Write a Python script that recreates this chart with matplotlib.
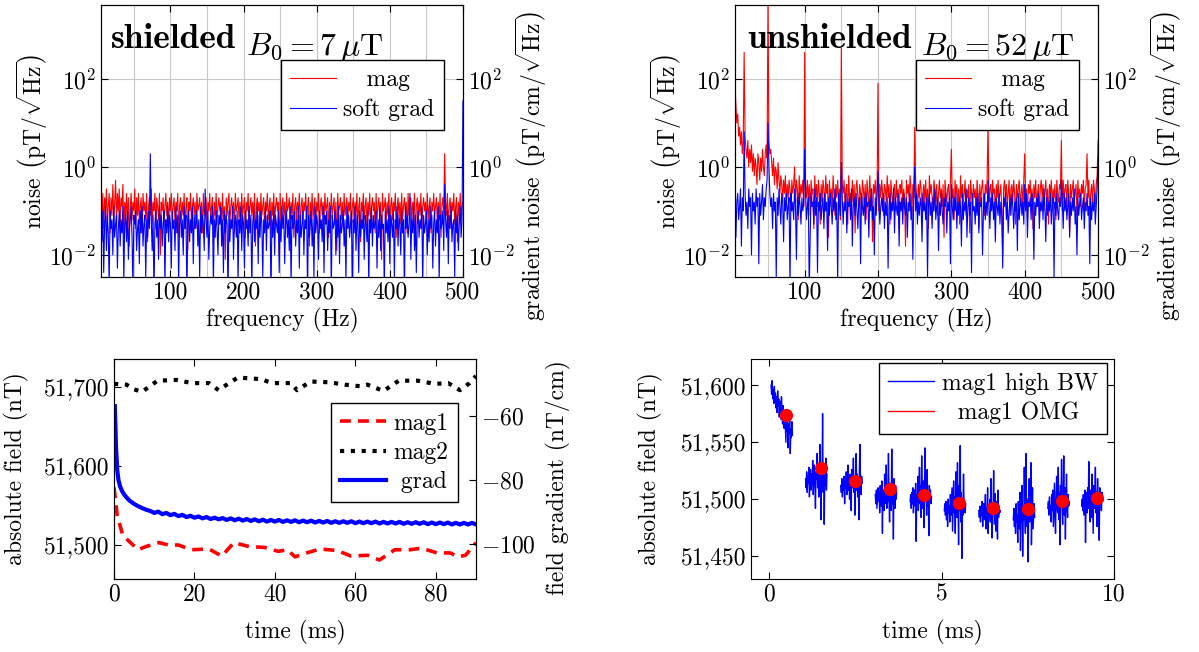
import numpy as np
import matplotlib.pyplot as plt
from matplotlib.ticker import FixedLocator, FuncFormatter, MultipleLocator, NullLocator

plt.rcParams['font.family'] = 'cmr10'
plt.rcParams['mathtext.fontset'] = 'cm'
plt.rcParams['axes.unicode_minus'] = False
plt.rcParams['font.size'] = 17

# noise spectra, bins from 5 Hz to 500 Hz (1.25 Hz apart),
# values in tenths of a decade (log10 * 10)
F_START, F_STOP = 5, 500

mag_shielded = [
    -8, -12, -6, -14, -7, -10, -5, -13, -9, -6, -15, -7, -11, -4, -12, -8, -3, -13, -6, -10,
    -5, -14, -7, -9, -4, -16, -8, -11, -6, -13, -7, -18, -9, -6, -12, -8, -10, -5, -14, -7,
    -11, -6, -13, -9, -7, -15, -6, -10, -8, -12, -6, -17, -9, -7, -11, -5, -13, -8, -10, -6,
    -14, -7, -9, -12, -6, -20, -8, -10, -7, -13, -9, -6, -11, -8, -15, -7, -10, -6, -12, -9,
    -7, -13, -8, -10, -6, -16, -9, -7, -12, -8, -11, -6, -14, -9, -7, -19, -8, -10, -6, -13,
    -9, -7, -11, -8, -14, -6, -10, -9, -7, -12, -8, -15, -6, -11, -9, -7, -13, -8, -10, -6,
    -12, -9, -7, -17, -8, -11, -6, -13, -9, -7, -10, -8, -14, -6, -12, -9, -21, -7, -11, -8,
    -6, -13, -9, -7, -11, -8, -15, -6, -10, -9, -7, -12, -8, -14, -6, -11, -9, -7, -16, -8,
    -10, -6, -13, -9, -7, -11, -8, -12, -6, -18, -9, -7, -10, -8, -13, -6, -11, -9, -7, -14,
    -8, -10, -6, -12, -9, -7, -15, -8, -11, -6, -13, -9, -7, -10, -8, -20, -6, -12, -9, -7,
    -11, -8, -14, -6, -10, -9, -7, -13, -8, -11, -6, -16, -9, -7, -12, -8, -10, -6, -14, -9,
    -7, -12, -8, -10, -6, -13, -9, -7, -18, -8, -11, -6, -12, -9, -7, -14, -8, -10, -6, -15,
    -9, -7, -11, -8, -13, -6, -10, -9, -7, -16, -8, -12, -6, -11, -9, -7, -13, -8, -19, -6,
    -10, -9, -7, -12, -8, -14, -6, -11, -9, -7, -13, -8, -10, -6, -15, -9, -7, -12, -8, -11,
    -6, -13, -9, -7, -17, -8, -10, -6, -12, -9, -7, -14, -8, -11, -6, -13, -9, -7, -10, -8,
    -15, -6, -12, -9, -7, -11, -8, -21, -6, -10, -9, -7, -13, -8, -11, -6, -14, -9, -7, -12,
    -8, -10, -6, -16, -9, -7, -11, -8, -13, -6, -12, -9, -7, -10, -8, -15, -6, -11, -9, -7,
    -13, -8, -10, -6, -18, -9, -7, -12, -8, -11, -6, -14, -9, -7, -10, -8, -13, -6, -12, -9,
    -7, -15, -8, -10, -6, -11, -9, -7, -13, -8, -12, -6, -16, -9, -7, -10, 3, -8, -11, -6,
    -14, -9, -7, -12, -8, -10, -6, -13, -9, -7, -17, -8, -11, -6, -12, -9, -8]

grad_shielded = [
    -12, -17, -10, -24, -13, -9, -19, -11, -15, -27, -10, -14, -12, -20, -9, -16, -13, -11, -23, -14,
    -10, -18, -12, -15, -9, -26, -13, -11, -17, -10, -21, -14, -12, -9, -16, -28, -11, -13, -10, -19,
    -14, -12, -22, -10, -15, -9, -18, -13, -11, -25, -12, -16, -10, -14, 3, -12, -19, -11, -30, -13,
    -10, -16, -12, -21, -9, -14, -11, -18, -13, -10, -27, -12, -15, -9, -17, -11, -13, -23, -10, -14,
    -12, -19, -9, -15, -11, -26, -13, -10, -16, -12, -20, -9, -14, -11, -29, -13, -10, -17, -12, -15,
    -9, -22, -11, -14, -13, -10, -18, -12, -25, -9, -15, -11, -13, -19, -5, -12, -16, -10, -21, -14,
    -11, -13, -9, -27, -12, -16, -10, -14, -20, -11, -13, -9, -18, -12, -24, -10, -15, -11, -13, -30,
    -10, -17, -12, -14, -9, -21, -13, -11, -16, -10, -26, -12, -15, -9, -19, -11, -13, -23, -10, -14,
    -12, -18, -9, -15, -11, -28, -13, -10, -17, -12, -14, -9, -22, -11, -16, -10, -13, -25, -12, -15,
    -9, -19, -11, -14, -13, -10, -30, -12, -16, -9, -20, -11, -13, -15, -10, -24, -12, -17, -9, -14,
    -11, -22, -13, -10, -16, -12, -19, -9, -27, -11, -14, -13, -10, -18, -12, -15, -9, -23, -11, -16,
    -13, -10, -20, -12, -14, -9, -29, -11, -16, -13, -10, -18, -12, -25, -9, -15, -11, -13, -21, -10,
    -14, -12, -17, -9, -24, -11, -13, -10, -19, -12, -15, -9, -28, -11, -14, -13, -10, -20, -12, -16,
    -9, -22, -11, -15, -13, -10, -18, -12, -26, -9, -14, -11, -16, -13, -10, -30, -12, -15, -9, -19,
    -11, -13, -24, -10, -16, -12, -14, -9, -21, -11, -13, -17, -10, -27, -12, -15, -9, -18, -11, -14,
    -13, -10, -23, -12, -16, -9, -19, -11, -14, -13, -28, -10, -15, -12, -17, -9, -22, -11, -13, -16,
    -10, -25, -12, -14, -9, -18, -11, -13, -20, -10, -15, -12, -29, -9, -14, -11, -16, -13, -6, -21,
    -12, -15, -9, -19, -11, -24, -13, -10, -16, -12, -14, -9, -27, -11, -15, -13, -10, -20, -12, -17,
    -9, -14, -11, -23, -13, -10, -18, -12, -15, -9, -26, -11, -14, -13, -10, -19, -4, -12, -16, -10,
    -22, -11, -14, -9, -17, -13, -12, -25, -10, -15, -11, -19, -13, -9, -16, -12, 15]

mag_unshielded = [
    19, 14, 10, 12, 7, 9, 5, 8, 3, 6, 26, 7, 4, 2, 6, 0, 4, 1, 5, -1,
    3, -2, 2, 0, -4, 3, 1, -3, 2, -1, 4, 0, -2, 3, 5, 2, 38, 6, 3, 4,
    1, -2, 2, -4, 0, -1, -5, 1, -3, -6, -2, -4, -8, -3, -6, -2, -9, -4, -7, -3,
    -5, -10, -3, -6, -4, 0, -8, -3, -5, -12, -2, -7, -4, -6, -3, -9, 26, -4, -7, -3,
    -8, -4, -11, -3, -6, -5, -14, -2, -7, -4, -9, -3, -6, -13, -4, -8, -3, -5, -10, -2,
    -6, -4, -16, -3, -7, -5, -9, -2, -6, -11, -4, -7, -3, -8, -5, -12, 27, -4, -6, -3,
    -9, -5, -4, -13, -2, -7, -6, -10, -3, -8, -4, -15, -5, -3, -7, -9, -4, -6, -11, -3,
    -5, -8, -4, -12, -3, -6, -9, -2, -7, -5, -17, -4, -6, -3, -8, -5, 19, -10, -4, -7,
    -3, -6, -11, -4, -5, -8, -2, -7, -4, -13, -3, -6, -9, -5, -4, -10, -3, -7, -5, -14,
    -4, -6, -3, -9, -5, -7, -18, -3, -6, -4, -8, -2, -5, -11, -4, -7, 9, -3, -6, -10,
    -4, -7, -3, -5, -12, -6, -4, -8, -3, -9, -5, -14, -2, -6, -4, -7, -10, -3, -5, -8,
    -4, -11, -6, -3, -7, -5, -9, -4, -16, -3, -6, -8, -5, -4, -10, -3, 4, -7, -5, -12,
    -3, -6, -4, -9, -5, -13, -2, -7, -4, -8, -6, -3, -11, -5, -7, -4, -15, -3, -6, -9,
    -4, -7, -5, -10, -3, -6, -14, -4, -8, -5, -3, -7, -11, -4, -6, -3, 10, -8, -5, -4,
    -9, -3, -6, -5, -12, -4, -7, -3, -8, -6, -4, -10, -20, -5, -3, -7, -4, -9, -6, -3,
    -11, -5, -4, -8, -3, -6, -13, -4, -7, -5, -3, -9, -6, -4, -10, -3, 3, -7, -5, -12,
    -4, -6, -3, -8, -5, -14, -4, -7, -3, -9, -6, -4, -11, -5, -3, -7, -4, -10, -6, -3,
    -8, -5, -13, -4, -6, -3, -9, -5, -7, -4, -12, -3, -6, -8, -4, -5, 6, -10, -3, -7,
    -5, -4, -9, -3, -6, -15, -4, -7, -5, -3, -8, -6, -4, -11, -3, -7, -5, -9, -4, -6,
    -3, -10, -5, -4, 3, -7, -3, -12, -6, -4, -8, -3, -5, -9, -4, -2, 6]

grad_unshielded = [
    -4, -16, -8, -6, -12, -9, -5, -18, -7, -10, 8, -6, -11, -8, -14, -5, -9, -7, -20, -6,
    -10, -8, -13, -5, -9, -7, -22, -6, -11, -8, -4, -12, -7, -9, -5, -3, 10, 0, -6, -9,
    -7, -14, -6, -10, -8, -25, -7, -11, -5, -9, -13, -6, -8, -17, -7, -10, -6, -12, -9, -7,
    -27, -6, -10, -8, -12, -5, -9, -21, -7, -11, -6, -9, -13, -7, -10, -8, 4, -6, -12, -9,
    -7, -28, -16, -6, -9, -8, -13, -5, -11, -7, -24, -8, -10, -6, -12, -9, -7, -14, -6, -10,
    -8, -19, -7, -11, -6, -9, -13, -7, -10, -5, -12, -8, -26, -6, -9, -11, 1, -7, -13, -8,
    -10, -6, -15, -8, -9, -7, -12, -5, -18, -9, -7, -11, -6, -10, -14, -8, -7, -22, -6, -9,
    -11, -7, -13, -6, -9, -8, -16, -7, -10, -5, -12, -9, -20, -7, -11, -6, -1, -8, -13, -9,
    -7, -10, -6, -14, -8, -11, -7, -23, -9, -6, -12, -8, -10, -5, -15, -7, -9, -11, -6, -18,
    -8, -10, -7, -13, -6, -9, -11, -7, -16, -8, -10, -6, -12, -9, -21, -7, 0, -10, -6, -13,
    -8, -11, -7, -9, -17, -6, -10, -8, -12, -7, -25, -9, -6, -11, -8, -14, -7, -10, -5, -12,
    -9, -7, -19, -8, -11, -6, -10, -13, -7, -9, -6, -15, -8, -10, -7, -22, -4, -9, -12, -7,
    -10, -6, -14, -8, -11, -7, -9, -18, -6, -12, -8, -10, -5, -16, -9, -7, -11, -8, -24, -6,
    -10, -9, -13, -7, -11, -6, -15, -8, -9, -7, -20, -10, -6, -12, -8, -11, -3, -9, -14, -7,
    -10, -6, -12, -8, -17, -7, -9, -11, -6, -13, -8, -10, -23, -7, -9, -6, -12, -8, -15, -10,
    -7, -11, -6, -9, -14, -8, -10, -7, -19, -6, -12, -9, -7, -11, -8, -13, -4, -10, -6, -16,
    -8, -9, -7, -12, -6, -10, -21, -8, -11, -7, -9, -6, -14, -8, -10, -7, -12, -5, -9, -17,
    -7, -11, -8, -10, -6, -13, -9, -7, -25, -8, -11, -6, -10, -12, -7, -9, -3, -8, -14, -6,
    -10, -7, -12, -9, -6, -16, -8, -11, -7, -10, -5, -13, -9, -20, -7, -11, -8, -6, -12, -9,
    -7, -14, -8, -10, -6, -11, -9, -22, -7, -12, -8, -10, -6, -13, -9, -5, 2]

# step response (bottom left)
mag1_t = [0, 0.8, 2.2, 4.1, 6, 7.9, 11.2, 13.6, 16, 19.3, 23.6, 26.8, 29.8, 33.6, 37.4, 40.8,
          43.1, 45, 47.9, 51.2, 55.5, 58.9, 63.1, 66, 69.8, 73.6, 76.5, 80.3, 83.6, 85.5, 87.4, 90]
mag1 = [51573, 51537, 51512, 51503, 51494, 51498, 51503, 51500, 51500, 51494, 51495, 51486,
        51503, 51498, 51497, 51492, 51494, 51485, 51490, 51495, 51493, 51486, 51487, 51481,
        51494, 51494, 51496, 51490, 51490, 51485, 51487, 51503]
mag2_t = [0, 3.1, 5, 7, 10.8, 15.5, 19.3, 23.6, 26, 28.9, 30.8, 36.5, 39.3, 44, 45.5, 48.9,
          53.6, 57.4, 61.2, 63, 67, 70.8, 75.5, 79.8, 83.1, 86, 88.4, 90]
mag2 = [51704, 51703, 51697, 51694, 51708, 51709, 51705, 51705, 51696, 51706, 51712, 51710,
        51705, 51705, 51696, 51707, 51706, 51703, 51701, 51703, 51695, 51708, 51708, 51704,
        51705, 51696, 51705, 51714]
grad_t_start = [0.2, 0.5, 0.8, 1.1, 1.5, 2, 2.5, 3, 3.5, 4, 5, 6, 7, 8, 9]
grad_start = [-57, -70, -77, -80, -82, -83.5, -84.5, -85.3, -86, -86.6, -87.5, -88.2, -88.8, -89.3, -89.7]
grad_tail = [  # one value per ms, 10 ms .. 90 ms
    -90.3, -89.9, -90.7, -90.3, -91.0, -90.6, -91.3, -90.9, -91.6, -91.2,
    -91.8, -91.4, -92.0, -91.6, -92.2, -91.8, -92.3, -91.9, -92.5, -92.0,
    -92.6, -92.1, -92.7, -92.2, -92.8, -92.3, -92.9, -92.4, -93.0, -92.5,
    -93.0, -92.5, -93.1, -92.6, -93.1, -92.6, -93.2, -92.7, -93.2, -92.7,
    -93.3, -92.8, -93.3, -92.8, -93.4, -92.9, -93.4, -92.9, -93.4, -92.9,
    -93.5, -93.0, -93.5, -93.0, -93.5, -93.0, -93.6, -93.1, -93.6, -93.1,
    -93.6, -93.1, -93.7, -93.2, -93.7, -93.2, -93.7, -93.2, -93.8, -93.3,
    -93.8, -93.3, -93.8, -93.3, -93.9, -93.4, -93.9, -93.4, -93.9, -93.4, -93.9]

# high bandwidth bursts (bottom right), offsets in nT from 51,500 nT
BW_BASE = 51500
BURST_LEN = 0.62
burst_start = [0.06, 1.06, 2.08, 3.08, 4.09, 5.08, 6.08, 7.08, 8.08, 9.06]
bursts = [
    [100, 92, 104, 88, 96, 84, 99, 86, 93, 80, 90, 76, 95, 82, 88, 72, 86, 78, 70, 90,
     74, 66, 82, 70, 62, 78, 64, 50, 72, 60, 68, 45, 66, 58, 74, 40, 62, 54, 68, 56],
    [18, 10, 24, 6, 20, 14, 28, 2, 16, 26, 8, 22, 12, 34, 4, 20, 30, 14, -8, 24,
     18, 40, 10, 28, 2, 22, 48, 14, -18, 26, 16, 75, 6, 30, -22, 20, 12, 36, 8, 22],
    [12, 6, 18, 2, 14, 8, 20, -4, 16, 10, 24, 4, 14, 30, 8, 18, 0, 22, 12, -10,
     26, 10, 16, 36, 6, 20, -14, 14, 40, 8, 22, 2, 18, -18, 28, 48, 12, 4, 20, 14],
    [4, -4, 8, -8, 2, 10, -2, 6, -12, 12, 0, -6, 16, -30, 8, 2, -10, 22, 4, -4,
     30, -8, 12, -2, 40, 0, -20, 14, 6, -10, 44, -4, 10, -35, 18, 2, -8, 12, 0, 6],
    [-2, 4, -8, 6, -4, 10, -12, 2, 8, -6, 14, -37, 4, -2, 20, -10, 6, 28, -4, 12,
     -16, 38, 0, -8, 16, -25, 6, 45, -2, 10, -14, 26, -6, 4, -32, 12, 0, 8, -4, 2],
    [-10, -4, -14, -2, -18, -8, -24, 0, -12, -6, -20, 4, -14, -2, 10, -28, -6, 16, -12, 2,
     -30, 24, -8, -16, 32, -4, -40, 12, -10, 47, -20, 6, -52, 0, -14, 22, -8, -2, -12, -4],
    [-10, -16, -6, -20, -8, -14, -2, -24, -10, -4, -18, -12, 4, -26, -8, -16, 10, -30, -6, -12,
     0, -20, 18, -14, -34, -4, -10, 25, -22, -8, 5, -28, -12, -2, -35, 8, -16, -6, -12, -10],
    [-18, -8, -24, -10, -30, -4, -20, -14, -38, -2, -16, -26, 6, -45, -12, -20, 12, -50, -8, -18,
     28, -14, -30, 40, -10, -24, 0, -55, -6, 18, -20, -12, 32, -40, -8, 10, -26, -14, -4, -16],
    [-8, -2, -14, 2, -12, -6, -20, 4, -10, 8, -24, -4, 14, -16, -30, 0, 20, -8, -12, 28,
     -18, 6, -40, 12, -4, 35, -10, -22, 2, 38, -14, 10, -35, 0, 22, -8, -16, 4, -6, -2],
    [-6, 0, -10, 4, -14, -2, 8, -38, -4, 6, -12, 10, -8, 33, -2, -20, 8, 2, -16, 22,
     -4, -30, 12, -8, 2, 28, -12, 6, -24, 18, -6, 0, -36, 10, -4, 4, -10, 6, -2, 0]]
omg_t = [0.5, 1.5, 2.5, 3.5, 4.5, 5.5, 6.5, 7.5, 8.5, 9.5]
omg = [51574, 51527, 51516, 51509, 51504, 51497, 51492, 51491.5, 51498, 51501]

fig = plt.figure(figsize=(11.99, 6.52), dpi=100)


def log_fmt(v, pos):
    return r'$10^{%d}$' % round(np.log10(v))


def boxed_legend(ax, handles, labels, anchor):
    leg = ax.legend(handles, labels, loc='upper right', bbox_to_anchor=anchor,
                    borderaxespad=0, fancybox=False, framealpha=1, edgecolor='black',
                    handlelength=1.95, borderpad=0.4, labelspacing=0.3, handletextpad=0.3)
    leg.get_frame().set_linewidth(1.0)
    return leg


def spectrum_panel(rect, mag, grad, word, rest, title_x):
    ax = fig.add_axes(rect)
    freq = np.linspace(F_START, F_STOP, len(mag))
    l1, = ax.plot(freq, 10 ** (np.array(mag) / 10), color='red', lw=0.8)
    ax2 = ax.twinx()
    l2, = ax2.plot(freq, 10 ** (np.array(grad) / 10), color='blue', lw=0.8)
    for a in (ax, ax2):
        a.set_yscale('log')
        a.set_ylim(10 ** -2.5, 10 ** 3.68)
        a.yaxis.set_major_locator(FixedLocator([1e-2, 1, 1e2]))
        a.yaxis.set_major_formatter(FuncFormatter(log_fmt))
        a.yaxis.set_minor_locator(NullLocator())
    ax.set_xlim(5, 500)
    ax.xaxis.set_major_locator(MultipleLocator(100))
    ax.xaxis.set_minor_locator(MultipleLocator(50))
    ax.grid(True, which='both', color='#c8c8c8', lw=0.8)
    ax.tick_params(which='both', direction='in', top=True, length=5)
    ax.tick_params(which='minor', length=0)
    ax2.tick_params(direction='in', length=5)
    ax.set_xlabel('frequency (Hz)', labelpad=3)
    ax.set_ylabel(r'noise $\left(\mathrm{pT}/\sqrt{\mathrm{Hz}}\right)$')
    ax.yaxis.set_label_coords(-0.14, 0.5)
    ax2.set_ylabel(r'gradient noise $\left(\mathrm{pT}/\mathrm{cm}/\sqrt{\mathrm{Hz}}\right)$')
    ax2.yaxis.set_label_coords(1.14, 0.41)
    t1 = ax2.text(title_x, 0.84, word, transform=ax.transAxes, fontsize=25.5,
                  fontfamily='cmb10', va='baseline')
    ax2.annotate(rest, xy=(1, 0), xycoords=t1, xytext=(7, 0), textcoords='offset points',
                 fontsize=23, va='baseline')
    boxed_legend(ax2, [l1, l2], ['   mag', 'soft grad'], (0.948, 0.798))


spectrum_panel([0.0842, 0.5752, 0.3019, 0.4172], mag_shielded, grad_shielded,
               'shielded', r'$B_0 = 7\,\mu\mathrm{T}$', 0.028)
spectrum_panel([0.6130, 0.5752, 0.3028, 0.4172], mag_unshielded, grad_unshielded,
               'unshielded', r'$B_0 = 52\,\mu\mathrm{T}$', 0.033)

comma = FuncFormatter(lambda v, p: f'{v:,.0f}')

# bottom left: step response
ax = fig.add_axes([0.0951, 0.1120, 0.3019, 0.3374])
m1, = ax.plot(mag1_t, mag1, color='red', lw=2.6, dashes=(3, 2))
m2, = ax.plot(mag2_t, mag2, color='black', lw=3, dashes=(1, 1.6))
ax.set_xlim(0, 90)
ax.set_ylim(51457, 51735.5)
ax.xaxis.set_major_locator(MultipleLocator(20))
ax.yaxis.set_major_locator(MultipleLocator(100))
ax.yaxis.set_major_formatter(comma)
ax.tick_params(direction='in', top=True, length=5)
ax.set_xlabel('time (ms)', labelpad=10)
ax.set_ylabel('absolute field (nT)')
ax.yaxis.set_label_coords(-0.235, 0.5)
ax2 = ax.twinx()
g, = ax2.plot(list(grad_t_start) + list(np.arange(10, 91)), grad_start + grad_tail,
              color='blue', lw=3)
ax2.set_ylim(-110.9, -42.3)
ax2.yaxis.set_major_locator(MultipleLocator(20))
ax2.yaxis.set_major_formatter(FuncFormatter(lambda v, p: f'${v:.0f}$'))
ax2.tick_params(direction='in', length=5)
ax2.set_ylabel('field gradient (nT/cm)')
ax2.yaxis.set_label_coords(1.193, 0.46)
boxed_legend(ax2, [m1, m2, g], ['mag1', 'mag2', ' grad'], (0.95, 0.8))

# bottom right: high bandwidth vs OMG
ax = fig.add_axes([0.6264, 0.1120, 0.3028, 0.3374])
bt, bv = [], []
for s, vals in zip(burst_start, bursts):
    bt += list(np.linspace(s, s + BURST_LEN, len(vals))) + [np.nan]
    bv += [BW_BASE + v for v in vals] + [np.nan]
hb, = ax.plot(bt, bv, color='blue', lw=1.0)
ax.plot(omg_t, omg, 'o', color='red', ms=8.5, zorder=3)
om, = ax.plot([], [], color='red', lw=1.0)
ax.set_xlim(-0.52, 10)
ax.set_ylim(51430, 51623)
ax.xaxis.set_major_locator(MultipleLocator(5))
ax.yaxis.set_major_locator(MultipleLocator(50))
ax.yaxis.set_major_formatter(comma)
ax.tick_params(direction='in', top=True, right=True, length=5)
ax.set_xlabel('time (ms)', labelpad=10)
ax.set_ylabel('absolute field (nT)')
ax.yaxis.set_label_coords(-0.242, 0.5)
boxed_legend(ax, [hb, om], ['mag1 high BW', '  mag1 OMG'], (0.981, 0.982))

fig.savefig('out.png', dpi=100)
